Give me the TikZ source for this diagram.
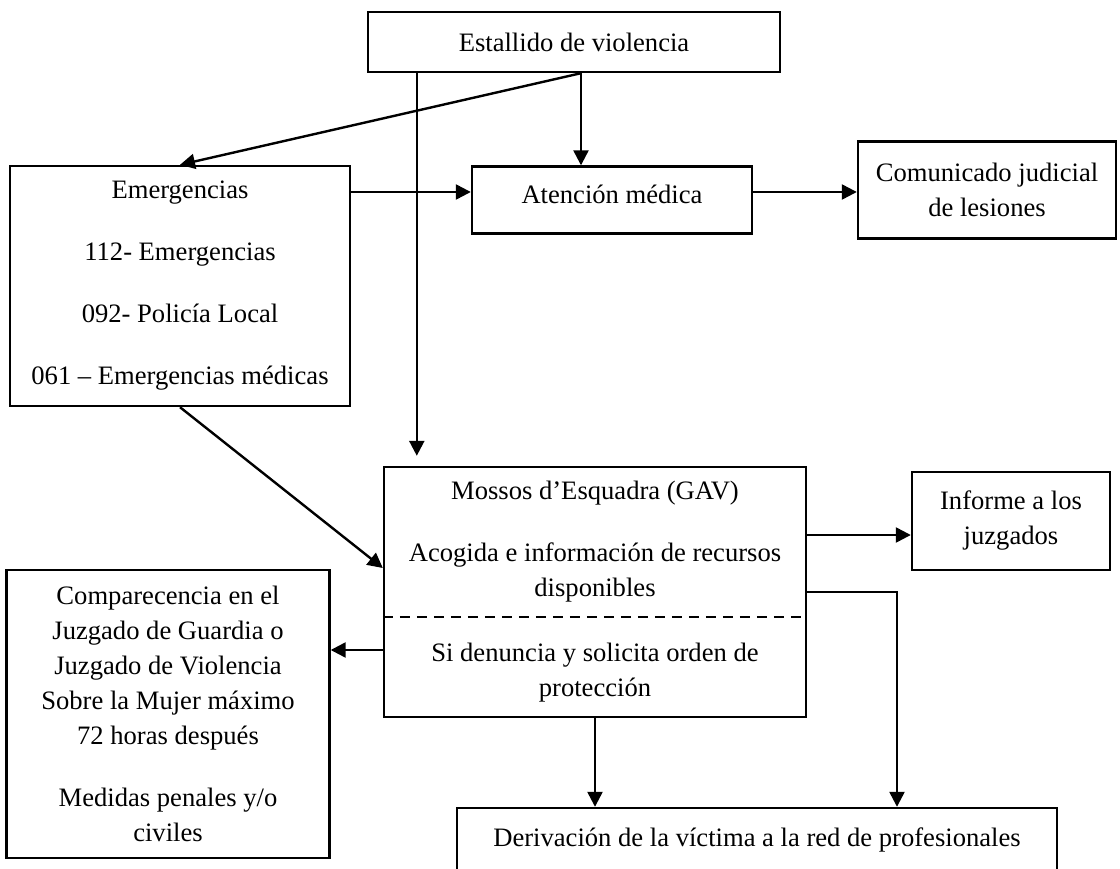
\documentclass[tikz,border=0pt]{standalone}
\usepackage{fontspec}
\setmainfont{Liberation Serif}
\usetikzlibrary{arrows.meta,calc}

\begin{document}
\begin{tikzpicture}[x=1pt,y=-1pt,
    caja/.style={draw,line width=2.4pt,inner sep=0pt,align=center,font=\fontsize{26.6}{35}\selectfont},
    flecha/.style={line width=2.4pt,-{Triangle[length=15pt,width=15pt]}}]
    \useasboundingbox (0,0) rectangle (1120,869);
    \clip (0,0) rectangle (1120,869);

    \node[caja,minimum width=412,minimum height=60] (1) at (574,42) {Estallido de violencia};
    \node[caja,minimum width=340,minimum height=240] (2) at (180,286)
        {Emergencias\\[27pt]112- Emergencias\\[27pt]092- Policía Local\\[27pt]061 -- Emergencias médicas};
    \node[caja,minimum width=280,minimum height=67,text depth=11pt] (3) at (612,200) {Atención médica};
    \node[caja,minimum width=258,minimum height=97] (4) at (987,190) {Comunicado judicial\\de lesiones};
    \node[caja,minimum width=422,minimum height=250] (5) at (595,592)
        {Mossos d’Esquadra (GAV)\\[27pt]Acogida e información de recursos\\disponibles\\[30pt]Si denuncia y solicita orden de\\protección};
    \node[caja,minimum width=198,minimum height=98] (6) at (1011,521) {Informe a los\\juzgados};
    \node[caja,minimum width=323,minimum height=288] (7) at (168,714)
        {Comparecencia en el\\Juzgado de Guardia o\\Juzgado de Violencia\\Sobre la Mujer máximo\\72 horas después\\[27pt]Medidas penales y/o\\civiles};
    \node[caja,minimum width=600,minimum height=64] (8) at (757,840) {Derivación de la víctima a la red de profesionales};

    \draw[line width=1.2pt,dash pattern=on 10pt off 7pt] ($(5.west)+(0,25)$) -- ($(5.east)+(0,25)$);

    \coordinate (s) at ($(1.south)+(7,0)$);
    \coordinate (v) at ($(1.south west)+(50,0)$);
    \coordinate (e) at ($(3.west)+(0,-8)$);
    \coordinate (c) at ($(3.east)+(0,-8)$);
    \coordinate (g) at ($(5.west)+(0,58)$);
    \coordinate (j) at ($(6.west)+(0,14)$);

    \draw[flecha] (s) -- (s |- 3.north);
    \draw[flecha] (s) -- (2.north);
    \draw[flecha,shorten >=10pt] (v) -- (v |- 5.north);
    \draw[flecha] (e -| 2.east) -- (e);
    \draw[flecha] (c) -- (c -| 4.west);
    \draw[flecha] (2.south) -- ($(5.west)+(0,-24)$);
    \draw[flecha] (g) -- (g -| 7.east);
    \draw[flecha] (j -| 5.east) -- (j);
    \draw[flecha] (5.east) -| ($(8.north)+(140,0)$);
    \draw[flecha] (5.south) -- (5.south |- 8.north);
\end{tikzpicture}
\end{document}
